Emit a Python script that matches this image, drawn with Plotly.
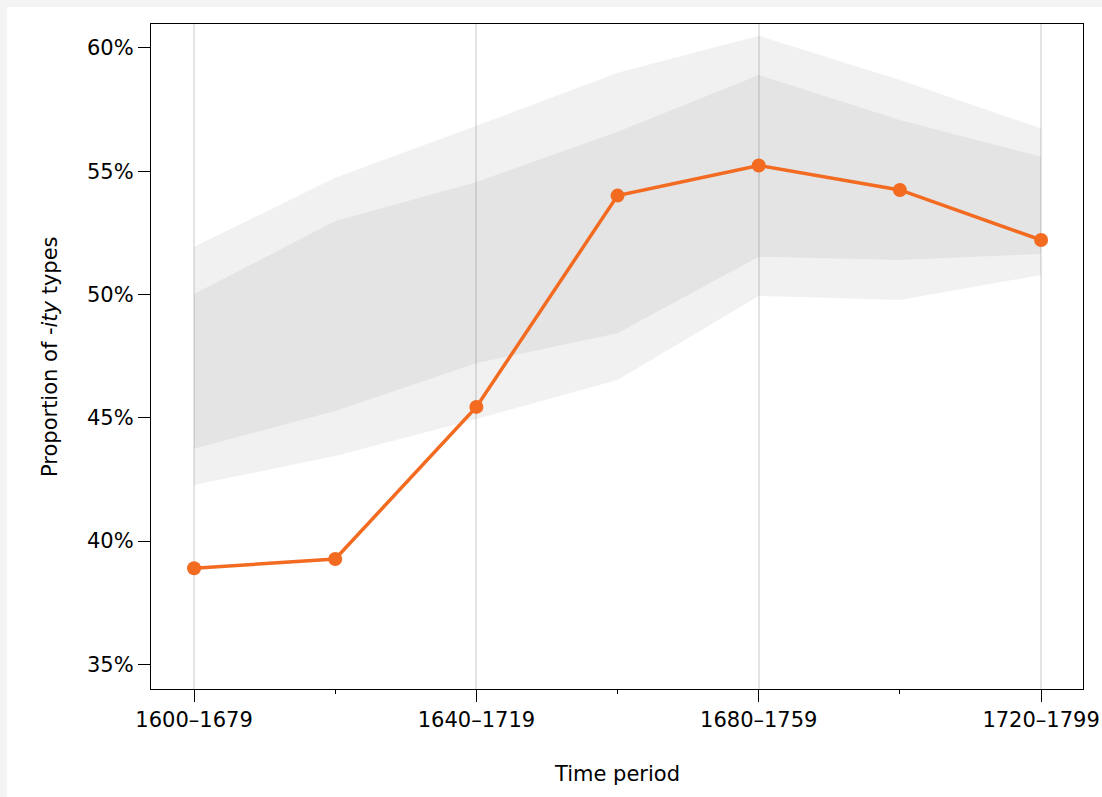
import plotly.graph_objects as go

# Time periods (80-year windows, stepping by 20 years)
periods = ["1600–1679", "1620–1699", "1640–1719", "1660–1739",
           "1680–1759", "1700–1779", "1720–1799"]
labelled_periods = ["1600–1679", "1640–1719", "1680–1759", "1720–1799"]

# Observed proportion of -ity types (%)
observed = [38.90, 39.27, 45.44, 54.01, 55.23, 54.24, 52.21]

# Simulated range: outer (wide) interval and inner (narrow) interval (%)
outer_upper = [51.94, 54.73, 56.84, 58.99, 60.49, 58.70, 56.74]
outer_lower = [42.27, 43.45, 44.95, 46.53, 49.94, 49.78, 50.79]
inner_upper = [50.02, 52.98, 54.56, 56.60, 58.90, 57.08, 55.59]
inner_lower = [43.74, 45.27, 47.21, 48.43, 51.53, 51.40, 51.64]

y_ticks = [35, 40, 45, 50, 55, 60]
y_tick_labels = ["35%", "40%", "45%", "50%", "55%", "60%"]

x = list(range(len(periods)))
major_x = [periods.index(p) for p in labelled_periods]

W, H = 1102, 797
L, R, T, B = 151, 19, 24, 108
pw, ph = W - L - R, H - T - B

FONT = "DejaVu Sans"
ORANGE = "#f26b21"

fig = go.Figure()

# Outer interval band
fig.add_trace(go.Scatter(x=x, y=outer_lower, mode="lines", line=dict(width=0),
                         hoverinfo="skip", showlegend=False))
fig.add_trace(go.Scatter(x=x, y=outer_upper, mode="lines", line=dict(width=0),
                         fill="tonexty", fillcolor="rgba(0,0,0,0.055)",
                         hoverinfo="skip", showlegend=False))
# Inner interval band
fig.add_trace(go.Scatter(x=x, y=inner_lower, mode="lines", line=dict(width=0),
                         hoverinfo="skip", showlegend=False))
fig.add_trace(go.Scatter(x=x, y=inner_upper, mode="lines", line=dict(width=0),
                         fill="tonexty", fillcolor="rgba(0,0,0,0.05)",
                         hoverinfo="skip", showlegend=False))
# Observed proportions
fig.add_trace(go.Scatter(x=x, y=observed, mode="lines+markers",
                         line=dict(color=ORANGE, width=3.5),
                         marker=dict(color=ORANGE, size=14),
                         showlegend=False))

# Page frame: light grey strip along the top and left edges
fig.add_shape(type="rect", xref="paper", yref="paper", layer="below",
              x0=(7 - L) / pw, x1=(W - L) / pw,
              y0=-B / ph, y1=(H - B - 7) / ph,
              fillcolor="white", line=dict(width=0))

fig.update_layout(
    width=W, height=H,
    margin=dict(l=L, r=R, t=T, b=B, autoexpand=False),
    paper_bgcolor="#f4f4f4",
    plot_bgcolor="white",
    font=dict(family=FONT, size=21, color="black"),
    xaxis=dict(
        range=[-0.305, 6.297],
        tickmode="array", tickvals=major_x, ticktext=labelled_periods,
        ticks="outside", ticklen=12, tickwidth=1.3, tickcolor="black",
        showgrid=True, gridcolor="#e4e4e4", gridwidth=2,
        showline=True, linecolor="black", linewidth=1.3, mirror=True,
        zeroline=False,
        minor=dict(tickmode="array", tickvals=[1, 3, 5], ticks="outside",
                   ticklen=4, tickwidth=1, tickcolor="black", showgrid=False),
        tickfont=dict(family=FONT, size=21, color="black"),
    ),
    yaxis=dict(
        range=[34.0, 60.97],
        tickmode="array", tickvals=y_ticks, ticktext=y_tick_labels,
        ticks="outside", ticklen=12, tickwidth=1.3, tickcolor="black",
        showgrid=False,
        showline=True, linecolor="black", linewidth=1.3, mirror=True,
        zeroline=False,
        tickfont=dict(family=FONT, size=21, color="black"),
    ),
    annotations=[
        dict(text="Time period", xref="paper", yref="paper",
             x=0.5, y=(689 - 774) / ph, xanchor="center", yanchor="middle",
             showarrow=False, font=dict(family=FONT, size=21, color="black")),
        dict(text="Proportion of -<i>ity</i> types", xref="paper", yref="paper",
             x=(50 - L) / pw, y=(689 - 357) / ph, xanchor="center", yanchor="middle",
             textangle=-90, showarrow=False,
             font=dict(family=FONT, size=21, color="black")),
    ],
)

fig.write_html("out.html")
